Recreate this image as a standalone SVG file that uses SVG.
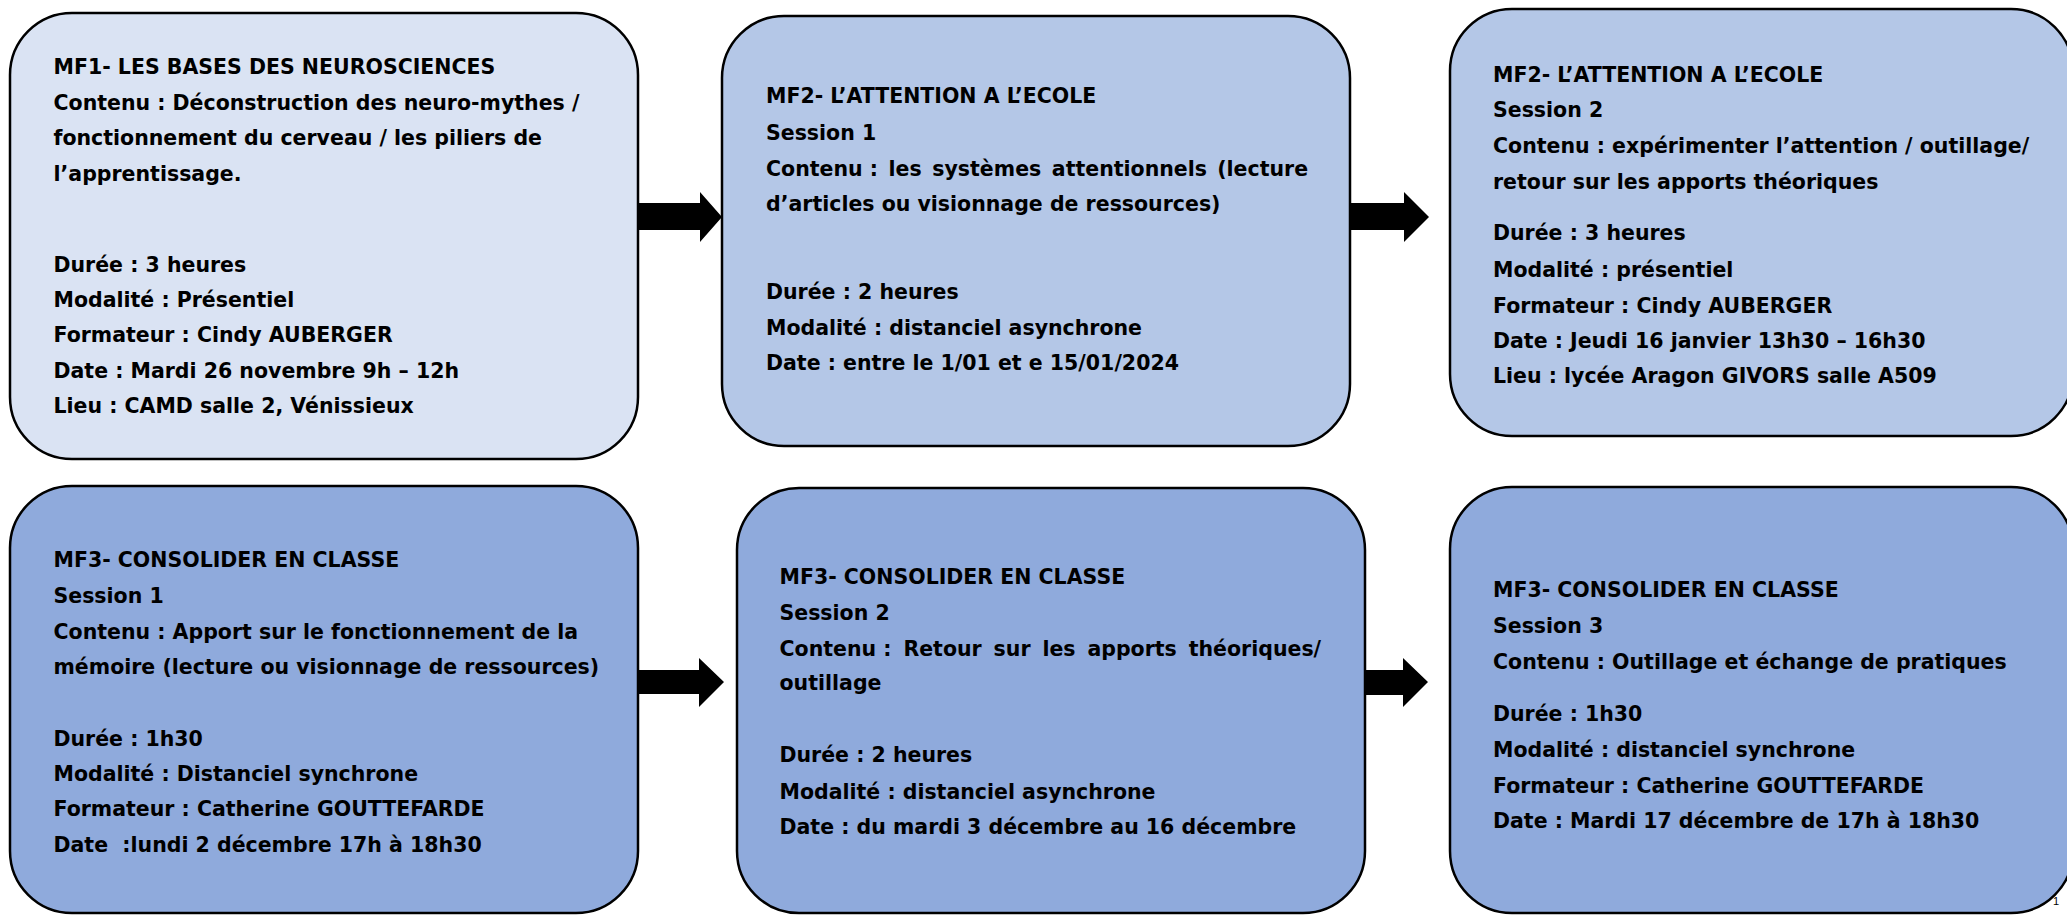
<svg xmlns="http://www.w3.org/2000/svg" width="2067" height="915" viewBox="0 0 2067 915">
<style>
.box{stroke:#000;stroke-width:2.5}
.c1{fill:#DAE3F3}.c2{fill:#B4C7E7}.c3{fill:#8FAADC}
.t{font-family:"DejaVu Sans","Liberation Sans",sans-serif;font-weight:bold;font-size:20.5px;fill:#000}
.arrow{fill:#000}
</style>
<rect width="2067" height="915" fill="#fff"/>
<g id="node-mf1">
<rect class="box c1" x="10" y="13" width="628" height="446" rx="62"/>
<text class="t"><tspan x="53.5" y="74">MF1- LES BASES DES NEUROSCIENCES</tspan><tspan x="53.5" y="109.5">Contenu : Déconstruction des neuro-mythes /</tspan><tspan x="53.5" y="145">fonctionnement du cerveau / les piliers de</tspan><tspan x="53.5" y="181">l’apprentissage.</tspan><tspan x="53.5" y="271.5">Durée : 3 heures</tspan><tspan x="53.5" y="306.5">Modalité : Présentiel</tspan><tspan x="53.5" y="342">Formateur : Cindy AUBERGER</tspan><tspan x="53.5" y="377.5">Date : Mardi 26 novembre 9h – 12h</tspan><tspan x="53.5" y="413">Lieu : CAMD salle 2, Vénissieux</tspan></text>
</g>
<g id="node-mf2-s1">
<rect class="box c2" x="722" y="16" width="628" height="430" rx="62"/>
<text class="t"><tspan x="766" y="103">MF2- L’ATTENTION A L’ECOLE</tspan><tspan x="766" y="139.5">Session 1</tspan><tspan x="766" y="175.5">Contenu :</tspan><tspan x="888.6" y="175.5">les</tspan><tspan x="932.3" y="175.5">systèmes</tspan><tspan x="1051.8" y="175.5">attentionnels</tspan><tspan x="1217.2" y="175.5">(lecture</tspan><tspan x="766" y="210.5">d’articles ou visionnage de ressources)</tspan><tspan x="766" y="298.5">Durée : 2 heures</tspan><tspan x="766" y="335">Modalité : distanciel asynchrone</tspan><tspan x="766" y="369.5">Date : entre le 1/01 et e 15/01/2024</tspan></text>
</g>
<g id="node-mf2-s2">
<rect class="box c2" x="1450" y="9" width="623" height="427" rx="62"/>
<text class="t"><tspan x="1493" y="82">MF2- L’ATTENTION A L’ECOLE</tspan><tspan x="1493" y="116.5">Session 2</tspan><tspan x="1493" y="153">Contenu : expérimenter l’attention / outillage/</tspan><tspan x="1493" y="189">retour sur les apports théoriques</tspan><tspan x="1493" y="240">Durée : 3 heures</tspan><tspan x="1493" y="276.5">Modalité : présentiel</tspan><tspan x="1493" y="312.5">Formateur : Cindy AUBERGER</tspan><tspan x="1493" y="347.5">Date : Jeudi 16 janvier 13h30 – 16h30</tspan><tspan x="1493" y="383">Lieu : lycée Aragon GIVORS salle A509</tspan></text>
</g>
<g id="node-mf3-s1">
<rect class="box c3" x="10" y="486" width="628" height="427" rx="62"/>
<text class="t" style="white-space:pre"><tspan x="53.5" y="566.5">MF3- CONSOLIDER EN CLASSE</tspan><tspan x="53.5" y="602.5">Session 1</tspan><tspan x="53.5" y="638.5">Contenu : Apport sur le fonctionnement de la</tspan><tspan x="53.5" y="674">mémoire (lecture ou visionnage de ressources)</tspan><tspan x="53.5" y="745.5">Durée : 1h30</tspan><tspan x="53.5" y="780.5">Modalité : Distanciel synchrone</tspan><tspan x="53.5" y="816">Formateur : Catherine GOUTTEFARDE</tspan><tspan x="53.5" y="852">Date  :lundi 2 décembre 17h à 18h30</tspan></text>
</g>
<g id="node-mf3-s2">
<rect class="box c3" x="737" y="488" width="628" height="425" rx="62"/>
<text class="t"><tspan x="779.5" y="583.5">MF3- CONSOLIDER EN CLASSE</tspan><tspan x="779.5" y="620">Session 2</tspan><tspan x="779.5" y="656">Contenu :</tspan><tspan x="903.4" y="656">Retour</tspan><tspan x="993.6" y="656">sur</tspan><tspan x="1042.4" y="656">les</tspan><tspan x="1087.4" y="656">apports</tspan><tspan x="1188.7" y="656">théoriques/</tspan><tspan x="779.5" y="690">outillage</tspan><tspan x="779.5" y="762">Durée : 2 heures</tspan><tspan x="779.5" y="798.5">Modalité : distanciel asynchrone</tspan><tspan x="779.5" y="834">Date : du mardi 3 décembre au 16 décembre</tspan></text>
</g>
<g id="node-mf3-s3">
<rect class="box c3" x="1450" y="487" width="623" height="426" rx="62"/>
<text class="t"><tspan x="1493" y="596.5">MF3- CONSOLIDER EN CLASSE</tspan><tspan x="1493" y="633">Session 3</tspan><tspan x="1493" y="668.5">Contenu : Outillage et échange de pratiques</tspan><tspan x="1493" y="721">Durée : 1h30</tspan><tspan x="1493" y="756.5">Modalité : distanciel synchrone</tspan><tspan x="1493" y="792.5">Formateur : Catherine GOUTTEFARDE</tspan><tspan x="1493" y="828">Date : Mardi 17 décembre de 17h à 18h30</tspan></text>
</g>
<g id="page-number">
<text x="2053" y="905" font-family="Liberation Sans, sans-serif" font-size="11" fill="#000">1</text>
</g>
<g id="connectors">
<polygon class="arrow" points="637,203 700,203 700,192 722,217 700,242 700,230 637,230"/>
<polygon class="arrow" points="1350,203 1404,203 1404,192 1429,217 1404,242 1404,230 1350,230"/>
<polygon class="arrow" points="637,670 699,670 699,658 724,682 699,707 699,694 637,694"/>
<polygon class="arrow" points="1365,670 1403,670 1403,658 1428,682 1403,707 1403,695 1365,695"/>
</g>
</svg>
